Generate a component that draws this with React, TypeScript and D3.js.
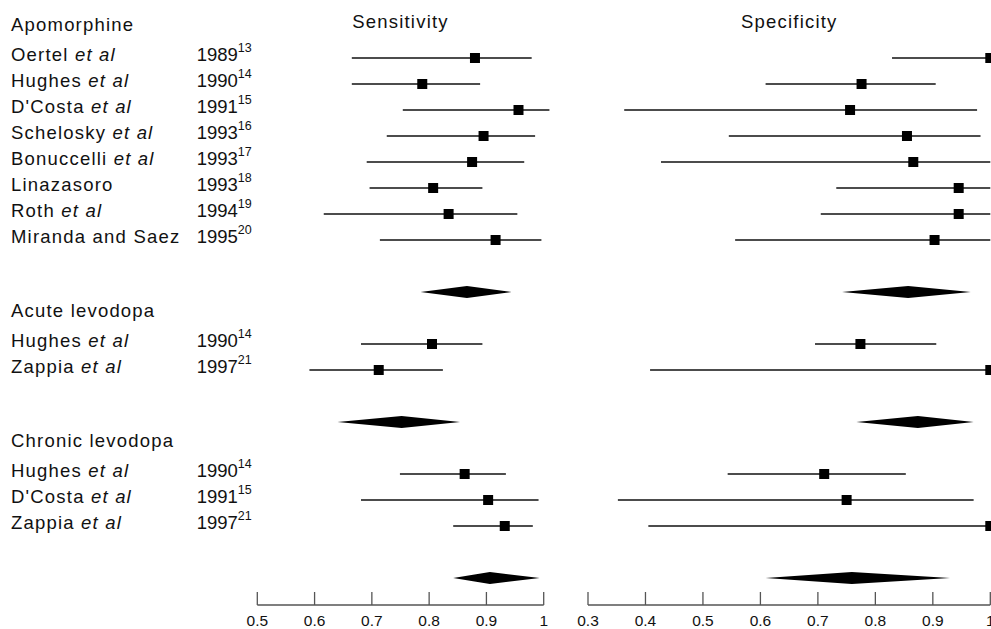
import React from "react";
import * as d3 from "d3";

// ---------- data ----------
const groupNames = ["Apomorphine", "Acute levodopa", "Chronic levodopa"];
const groupFirstSlot = [1, 12, 17];

const studyAuthors = ["Oertel", "Hughes", "D'Costa", "Schelosky", "Bonuccelli", "Linazasoro", "Roth", "Miranda and Saez", "Hughes", "Zappia", "Hughes", "D'Costa", "Zappia"];
const studyEtAl = [true, true, true, true, true, false, true, false, true, true, true, true, true];
const studyYears = ["1989", "1990", "1991", "1993", "1993", "1993", "1994", "1995", "1990", "1997", "1990", "1991", "1997"];
const studyRefs = ["13", "14", "15", "16", "17", "18", "19", "20", "14", "21", "14", "15", "21"];
const studyGroup = [0, 0, 0, 0, 0, 0, 0, 0, 1, 1, 2, 2, 2];

const sensEst = [0.880, 0.788, 0.956, 0.895, 0.875, 0.807, 0.834, 0.916, 0.805, 0.712, 0.862, 0.903, 0.932];
const sensLo = [0.665, 0.665, 0.754, 0.726, 0.691, 0.696, 0.616, 0.714, 0.681, 0.591, 0.749, 0.681, 0.842];
const sensHi = [0.979, 0.889, 1.010, 0.985, 0.966, 0.893, 0.954, 0.996, 0.893, 0.824, 0.934, 0.991, 0.981];

const specEst = [1.0, 0.776, 0.756, 0.855, 0.866, 0.945, 0.945, 0.903, 0.774, 1.0, 0.711, 0.750, 1.0];
const specLo = [0.829, 0.609, 0.363, 0.545, 0.427, 0.732, 0.705, 0.556, 0.695, 0.408, 0.543, 0.352, 0.405];
const specHi = [1.0, 0.905, 0.977, 0.983, 1.0, 1.0, 1.0, 1.0, 0.906, 1.0, 0.853, 0.971, 1.0];

const sensPoolEst = [0.866, 0.752, 0.906];
const sensPoolLo = [0.785, 0.640, 0.842];
const sensPoolHi = [0.944, 0.854, 0.993];
const specPoolEst = [0.857, 0.874, 0.759];
const specPoolLo = [0.742, 0.767, 0.609];
const specPoolHi = [0.966, 0.971, 0.930];

const sensTicks = [0.5, 0.6, 0.7, 0.8, 0.9, 1];
const specTicks = [0.3, 0.4, 0.5, 0.6, 0.7, 0.8, 0.9, 1];
const panelTitles = ["Sensitivity", "Specificity"];

// ---------- layout ----------
const W = 991;
const H = 629;
const FONT = "'Liberation Sans', Arial, Helvetica, sans-serif";

export default function App() {
  const xSens = d3.scaleLinear().domain([0.5, 1]).range([257.3, 543.7]);
  const xSpec = d3.scaleLinear().domain([0.3, 1]).range([588, 990.3]);
  const y = d3.scaleLinear().domain([1, 19]).range([58, 526]);
  const fmt = d3.format("~g");

  const counters = [0, 0, 0];
  const studySlot = studyGroup.map((g) => groupFirstSlot[g] + counters[g]++);
  const groupCount = groupNames.map((_, g) => studyGroup.filter((x) => x === g).length);
  const poolSlot = groupNames.map((_, g) => groupFirstSlot[g] + groupCount[g] + 1);
  const headerSlot = groupNames.map((_, g) => groupFirstSlot[g] - 1.15);

  const axisY = 605;
  const textSize = 18.5;
  const capOff = 2.6;
  const markerSize = 10;
  const diamondH = 6;

  const panels = [
    { x: xSens, est: sensEst, lo: sensLo, hi: sensHi, pEst: sensPoolEst, pLo: sensPoolLo, pHi: sensPoolHi, ticks: sensTicks, title: panelTitles[0], titleX: 400.5 },
    { x: xSpec, est: specEst, lo: specLo, hi: specHi, pEst: specPoolEst, pLo: specPoolLo, pHi: specPoolHi, ticks: specTicks, title: panelTitles[1], titleX: 789.3 },
  ];

  const diamond = (x: any, lo: number, est: number, hi: number, cy: number) =>
    `M${x(lo)},${cy} L${x(est)},${cy - diamondH} L${x(hi)},${cy} L${x(est)},${cy + diamondH} Z`;

  return (
    <svg width={W} height={H} style={{ position: "absolute", left: 0, top: 0, background: "#fff" }} fontFamily={FONT}>
      <rect x={0} y={0} width={W} height={H} fill="#fff" />
      {groupNames.map((g, i) => (
        <text key={g} x={11} y={y(headerSlot[i]) + capOff} fontSize={textSize} letterSpacing={1.2} fill="#111">
          {g}
        </text>
      ))}
      {studyAuthors.map((a, i) => (
        <g key={"lab" + i}>
          <text x={11} y={y(studySlot[i]) + capOff} fontSize={textSize} letterSpacing={1.2} fill="#111">
            {a}
            {studyEtAl[i] ? <tspan fontStyle="italic">{" et al"}</tspan> : null}
          </text>
          <text x={196.7} y={y(studySlot[i]) + capOff} fontSize={textSize} fill="#111">
            {studyYears[i]}
            <tspan fontSize={12.5} dy={-8.5}>{studyRefs[i]}</tspan>
          </text>
        </g>
      ))}
      {panels.map((p, k) => (
        <g key={"panel" + k}>
          <text x={p.titleX} y={28.3} fontSize={textSize} letterSpacing={1.2} textAnchor="middle" fill="#111">
            {p.title}
          </text>
          {studyAuthors.map((_, i) => {
            const cy = y(studySlot[i]);
            return (
              <g key={"s" + i}>
                <line x1={p.x(p.lo[i])} x2={p.x(p.hi[i])} y1={cy} y2={cy} stroke="#111" strokeWidth={1.5} />
                <rect x={p.x(p.est[i]) - markerSize / 2} y={cy - markerSize / 2} width={markerSize} height={markerSize} fill="#000" />
              </g>
            );
          })}
          {groupNames.map((_, g) => (
            <path key={"d" + g} d={diamond(p.x, p.pLo[g], p.pEst[g], p.pHi[g], y(poolSlot[g]))} fill="#000" />
          ))}
          <line x1={p.x(p.ticks[0])} x2={p.x(p.ticks[p.ticks.length - 1])} y1={axisY} y2={axisY} stroke="#555" strokeWidth={1.3} />
          {p.ticks.map((t) => (
            <g key={"t" + t}>
              <line x1={p.x(t)} x2={p.x(t)} y1={axisY} y2={axisY - 13} stroke="#555" strokeWidth={1.3} />
              <text x={p.x(t)} y={626} fontSize={15.5} textAnchor="middle" fill="#111">
                {fmt(t)}
              </text>
            </g>
          ))}
        </g>
      ))}
    </svg>
  );
}
